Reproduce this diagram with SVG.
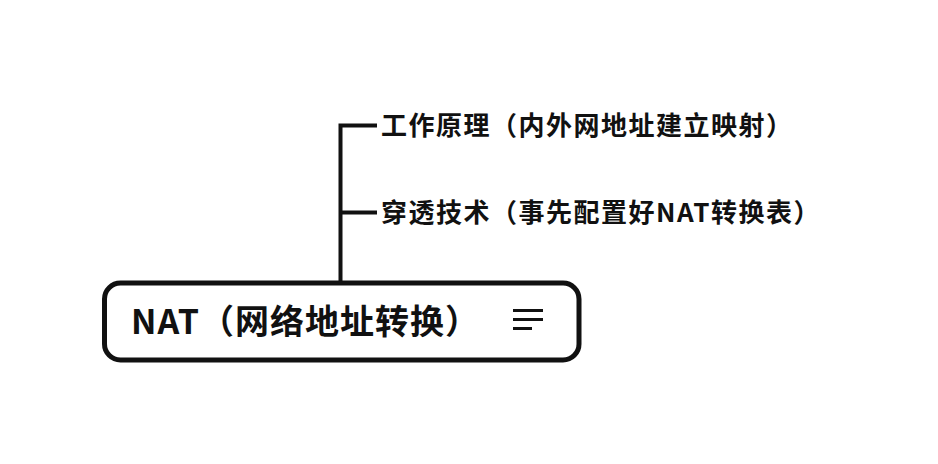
<svg xmlns="http://www.w3.org/2000/svg" width="938" height="464" viewBox="0 0 938 464">
<style>
.conn{stroke:#111;stroke-width:4;fill:none}
.child{font-family:"Noto Sans CJK SC","Noto Sans",sans-serif;font-size:26px;font-weight:600;letter-spacing:1.5px;fill:#111}
.root{font-family:"Noto Sans CJK SC","Noto Sans",sans-serif;font-size:34px;font-weight:700;letter-spacing:1px;fill:#111}
.icon{stroke:#111;stroke-width:3;fill:none}
</style>
<rect width="938" height="464" fill="#fff"/>
<g id="connectors">
<path class="conn" d="M340.5 283 V125.5 H377 M340.5 212.5 H377"/>
</g>
<g id="root">
<rect x="104.5" y="283" width="474.5" height="77" rx="16" fill="#fff" stroke="#111" stroke-width="5"/>
<text class="root" x="131" y="334">NAT（网络地址转换）</text>
<path class="icon" d="M513 310.5H543M513 319.5H543M513 328.5H532"/>
</g>
<g id="n1"><text class="child" x="381" y="135">工作原理（内外网地址建立映射）</text></g>
<g id="n2"><text class="child" x="381" y="222">穿透技术（事先配置好NAT转换表）</text></g>
</svg>
